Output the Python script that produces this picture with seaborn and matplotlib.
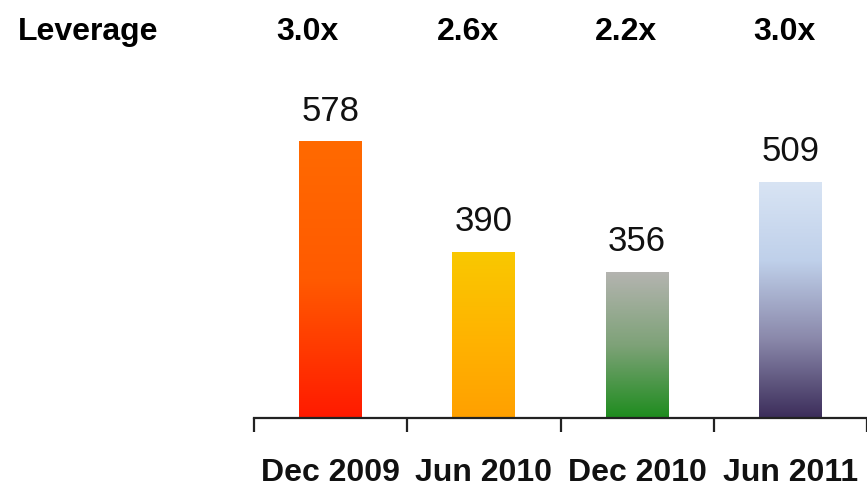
import numpy as np
import pandas as pd
import matplotlib
matplotlib.use("Agg")
import matplotlib.pyplot as plt
import seaborn as sns
from matplotlib.colors import LinearSegmentedColormap

periods = ["Dec 2009", "Jun 2010", "Dec 2010", "Jun 2011"]
values = [578, 390, 356, 509]
leverage = ["3.0x", "2.6x", "2.2x", "3.0x"]

# gradient colours (top -> bottom) per bar
gradients = [
    ["#FF6A00", "#FF5A00", "#FF1A00"],
    ["#F9C800", "#FFB400", "#FFA000"],
    ["#B4B4B0", "#7EA278", "#1E8C1E"],
    ["#D8E4F4", "#BFD0EA", "#8A88AA", "#3C2D5A"],
]

sns.set_theme(style="white")
plt.rcParams["font.family"] = ["Liberation Sans", "DejaVu Sans"]

df = pd.DataFrame({"period": periods, "value": values})

fig = plt.figure(figsize=(8.67, 4.88), dpi=100)
ax = fig.add_axes([254 / 867, 1 - 418 / 488, 1 - 254 / 867, 418 / 488])

sns.barplot(data=df, x="period", y="value", ax=ax, width=0.41,
            color="white", edgecolor="none", saturation=1)

XLIM = (-0.5, -0.5 + (867 - 254) / 155.5)
YLIM = (107, 820)

for patch, cols in zip(ax.patches, gradients):
    x0, y0 = patch.get_x(), patch.get_y()
    w, h = patch.get_width(), patch.get_height()
    cmap = LinearSegmentedColormap.from_list("g", cols)
    grad = np.linspace(0, 1, 256).reshape(-1, 1)
    ax.imshow(grad, cmap=cmap, aspect="auto", origin="upper",
              extent=(x0, x0 + w, max(y0, YLIM[0]), y0 + h),
              zorder=patch.get_zorder() + 0.1)

ax.set_xlim(*XLIM)
ax.set_ylim(*YLIM)

for p, v in zip(ax.patches, values):
    ax.annotate(str(v), (p.get_x() + p.get_width() / 2, v),
                xytext=(0, 10), textcoords="offset points",
                ha="center", va="bottom", fontsize=25, color="#111111")

# axis styling
for s in ["top", "right", "left"]:
    ax.spines[s].set_visible(False)
ax.spines["bottom"].set_color("#222222")
ax.spines["bottom"].set_linewidth(1.6)
ax.spines["bottom"].set_zorder(5)
ax.set_yticks([])
ax.set_xlabel("")
ax.set_ylabel("")
ax.set_xticks(range(len(periods)))
ax.set_xticklabels(periods, fontsize=23, fontweight="bold", color="#111111")
ax.tick_params(axis="x", which="major", length=0, pad=29)
ax.set_xticks([i - 0.5 for i in range(len(periods) + 1)], minor=True)
ax.tick_params(axis="x", which="minor", length=10, width=1.6,
               color="#222222", direction="out", bottom=True)

# header row
fig.text(18 / 867, 1 - 32 / 488, "Leverage", fontsize=23, fontweight="bold",
         ha="left", va="center", color="black")
header_x = [307, 468, 626, 784]
for hx, lev in zip(header_x, leverage):
    fig.text(hx / 867, 1 - 32 / 488, lev, fontsize=23, fontweight="bold",
             ha="center", va="center", color="black")

fig.savefig("out.png", dpi=100, facecolor="white")
